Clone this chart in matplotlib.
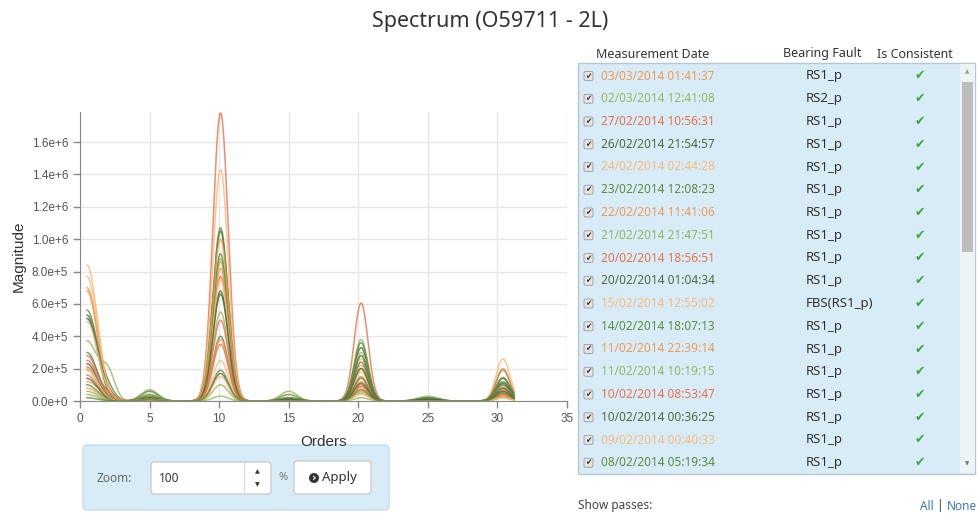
import matplotlib
matplotlib.use('Agg')
import numpy as np
import matplotlib.pyplot as plt
from matplotlib.patches import Rectangle, FancyBboxPatch, Circle

# ----------------------
# data
# ----------------------
dates = ["03/03/2014 01:41:37", "02/03/2014 12:41:08", "27/02/2014 10:56:31",
         "26/02/2014 21:54:57", "24/02/2014 02:44:28", "23/02/2014 12:08:23",
         "22/02/2014 11:41:06", "21/02/2014 21:47:51", "20/02/2014 18:56:51",
         "20/02/2014 01:04:34", "15/02/2014 12:55:02", "14/02/2014 18:07:13",
         "11/02/2014 22:39:14", "11/02/2014 10:19:15", "10/02/2014 08:53:47",
         "10/02/2014 00:36:25", "09/02/2014 00:40:33", "08/02/2014 05:19:34"]
faults = ["RS1_p", "RS2_p", "RS1_p", "RS1_p", "RS1_p", "RS1_p", "RS1_p", "RS1_p",
          "RS1_p", "RS1_p", "FBS(RS1_p)", "RS1_p", "RS1_p", "RS1_p", "RS1_p",
          "RS1_p", "RS1_p", "RS1_p"]

palette = ["#f09a50", "#9ab560", "#e8704a", "#4e6a3a", "#f7ba7a", "#5e8a3e"]
n_series = 24
series_colors = [palette[i % 6] for i in range(n_series)]

# peak magnitudes of each pass at the harmonics
harm_orders = [0.5, 2.0, 5.0, 10.1, 15.0, 20.2, 25.0, 30.4]
harm_width = [0.75, 0.5, 0.6, 0.55, 0.6, 0.5, 0.7, 0.5]
amp_dc = [0.70e6, 0.19e6, 0.28e6, 0.51e6, 0.84e6, 0.56e6, 0.68e6, 0.37e6, 0.21e6, 0.53e6,
          0.77e6, 0.30e6, 0.12e6, 0.06e6, 0.16e6, 0.23e6, 0.49e6, 0.10e6, 0.08e6, 0.04e6,
          0.25e6, 0.14e6, 0.20e6, 0.02e6]
amp_2 = [0.0, 0.0, 0.02e6, 0.0, 0.0, 0.06e6, 0.0, 0.17e6, 0.0, 0.03e6, 0.0, 0.0,
         0.04e6, 0.0, 0.0, 0.0, 0.02e6, 0.0, 0.0, 0.0, 0.03e6, 0.0, 0.0, 0.0]
amp_5 = [0.02e6, 0.07e6, 0.01e6, 0.04e6, 0.01e6, 0.06e6, 0.02e6, 0.04e6, 0.01e6, 0.02e6,
         0.01e6, 0.03e6, 0.01e6, 0.01e6, 0.01e6, 0.02e6, 0.01e6, 0.01e6, 0.01e6, 0.01e6,
         0.01e6, 0.01e6, 0.01e6, 0.01e6]
amp_10 = [0.86e6, 0.55e6, 1.78e6, 1.05e6, 1.43e6, 1.07e6, 0.82e6, 0.88e6, 0.77e6, 0.68e6,
          0.75e6, 0.91e6, 1.00e6, 0.10e6, 0.50e6, 0.66e6, 0.25e6, 0.40e6, 0.38e6, 0.03e6,
          0.35e6, 0.17e6, 0.15e6, 0.19e6]
amp_15 = [0.01e6, 0.06e6, 0.01e6, 0.02e6, 0.01e6, 0.04e6, 0.01e6, 0.02e6, 0.01e6, 0.01e6,
          0.01e6, 0.02e6, 0.01e6, 0.0, 0.01e6, 0.01e6, 0.0, 0.01e6, 0.0, 0.0,
          0.0, 0.01e6, 0.0, 0.0]
amp_20 = [0.20e6, 0.38e6, 0.605e6, 0.33e6, 0.26e6, 0.36e6, 0.22e6, 0.30e6, 0.15e6, 0.28e6,
          0.18e6, 0.24e6, 0.12e6, 0.05e6, 0.10e6, 0.20e6, 0.08e6, 0.14e6, 0.06e6, 0.02e6,
          0.09e6, 0.11e6, 0.04e6, 0.07e6]
amp_25 = [0.01e6, 0.03e6, 0.01e6, 0.02e6, 0.01e6, 0.02e6, 0.0, 0.01e6, 0.0, 0.01e6,
          0.0, 0.01e6, 0.0, 0.0, 0.0, 0.01e6, 0.0, 0.0, 0.0, 0.0,
          0.0, 0.01e6, 0.0, 0.0]
amp_30 = [0.08e6, 0.20e6, 0.19e6, 0.14e6, 0.26e6, 0.12e6, 0.10e6, 0.06e6, 0.05e6, 0.11e6,
          0.09e6, 0.145e6, 0.04e6, 0.03e6, 0.07e6, 0.08e6, 0.05e6, 0.10e6, 0.03e6, 0.02e6,
          0.04e6, 0.06e6, 0.02e6, 0.05e6]

y_ticks = [0, 2e5, 4e5, 6e5, 8e5, 1e6, 1.2e6, 1.4e6, 1.6e6]
y_labels = ["0.0e+0", "2.0e+5", "4.0e+5", "6.0e+5", "8.0e+5", "1.0e+6", "1.2e+6", "1.4e+6", "1.6e+6"]
x_ticks = [0, 5, 10, 15, 20, 25, 30, 35]

# ----------------------
# figure
# ----------------------
W, H = 980, 513
fig = plt.figure(figsize=(W / 100, H / 100), dpi=100)
fig.patch.set_facecolor("white")

UI_FONT = ["Noto Sans", "DejaVu Sans"]
CHART_FONT = ["Liberation Sans", "DejaVu Sans"]

fig.text(0.5, 1 - 22 / H, "Spectrum (O59711 - 2L)", ha="center", va="center",
         fontsize=15.5, color="#333333", family=UI_FONT)

# spectrum axes
ax = fig.add_axes([80 / W, 1 - 401 / H, (567 - 80) / W, (401 - 112) / H])
x = np.linspace(0.5, 31.2, 800)
amps = [amp_dc, amp_2, amp_5, amp_10, amp_15, amp_20, amp_25, amp_30]
for i in range(n_series):
    y = np.zeros_like(x)
    for a, c, w in zip(amps, harm_orders, harm_width):
        y += a[i] * np.exp(-(x - c) ** 2 / (2 * w ** 2))
    ax.plot(x, y, color=series_colors[i], lw=1.1, alpha=0.8)

ax.set_xlim(0, 35)
ax.set_ylim(0, 1.786e6)
ax.set_xticks(x_ticks)
ax.set_yticks(y_ticks)
ax.set_yticklabels(y_labels)
ax.grid(True, color="#e6e6e6", lw=1)
ax.set_axisbelow(True)
for s in ["top", "right"]:
    ax.spines[s].set_visible(False)
ax.spines["left"].set_color("#888888")
ax.spines["bottom"].set_color("#888888")
ax.tick_params(colors="#888888", labelcolor="#555555", length=5, width=1, labelsize=8.5)
for lab in ax.get_xticklabels() + ax.get_yticklabels():
    lab.set_family(CHART_FONT)
ax.set_xlabel("Orders", fontsize=11, color="#333333", family=CHART_FONT, labelpad=7)
ax.set_ylabel("Magnitude", fontsize=11, color="#333333", family=CHART_FONT, labelpad=4)

# ----------------------
# UI layer (pixel coords)
# ----------------------
ui = fig.add_axes([0, 0, 1, 1], zorder=-1)
ui.set_xlim(0, W)
ui.set_ylim(H, 0)
ui.axis("off")

# table header
hdr = dict(fontsize=9, color="#333333", family=UI_FONT, va="center")
ui.text(596, 54, "Measurement Date", ha="left", **hdr)
ui.text(783, 54, "Bearing Fault", ha="left", **hdr)
ui.text(877, 54, "Is Consistent", ha="left", **hdr)

# list box
ui.add_patch(Rectangle((578, 63), 397, 411, facecolor="#d8ecf8", edgecolor="#b9c6d0", lw=1))
ui.add_patch(Rectangle((960, 64), 15, 409, facecolor="#eef3f6", edgecolor="none"))
ui.add_patch(Rectangle((962, 82), 11, 170, facecolor="#bdbdbd", edgecolor="none"))
ui.text(967.5, 72, "▲", ha="center", va="center", fontsize=4, color="#999999")
ui.text(967.5, 464, "▼", ha="center", va="center", fontsize=4, color="#777777")

row0, row_h = 76, 22.75
for i, (d, f) in enumerate(zip(dates, faults)):
    yy = row0 + i * row_h
    ui.add_patch(FancyBboxPatch((584, yy - 4.5), 9, 9, boxstyle="round,pad=0,rounding_size=1.5",
                                facecolor="#e4e4e4", edgecolor="#9a9a9a", lw=0.6))
    ui.text(588.5, yy, "✔", ha="center", va="center", fontsize=5.5, color="#333333",
            family=["DejaVu Sans"])
    ui.text(601, yy, d, ha="left", va="center", fontsize=8.5, color=series_colors[i], family=UI_FONT)
    ui.text(806, yy, f, ha="left", va="center", fontsize=9.5, color="#333333", family=UI_FONT)
    ui.text(920, yy, "✔", ha="center", va="center", fontsize=9, color="#3fa83f",
            family=["DejaVu Sans"])

ui.text(578, 506, "Show passes:", ha="left", va="center", fontsize=8.5, color="#444444", family=UI_FONT)
ui.text(977, 506, "None", ha="right", va="center", fontsize=8.5, color="#3a78c2", family=UI_FONT)
ui.text(939, 506, "|", ha="center", va="center", fontsize=8.5, color="#333333", family=UI_FONT)
ui.text(934, 506, "All", ha="right", va="center", fontsize=8.5, color="#3a78c2", family=UI_FONT)

# zoom box
ui.add_patch(FancyBboxPatch((83, 445), 306, 65, boxstyle="round,pad=0,rounding_size=4",
                            facecolor="#d8ecf8", edgecolor="#c3dbec", lw=1))
ui.text(96, 478, "Zoom:", ha="left", va="center", fontsize=8.5, color="#666666", family=UI_FONT)
ui.add_patch(FancyBboxPatch((151, 462), 120, 32, boxstyle="round,pad=0,rounding_size=3",
                            facecolor="white", edgecolor="#cccccc", lw=1))
ui.plot([244, 244], [462, 494], color="#dddddd", lw=1)
ui.text(159, 478, "100", ha="left", va="center", fontsize=8.5, color="#333333", family=UI_FONT)
ui.text(257, 472, "▲", ha="center", va="center", fontsize=4.5, color="#333333")
ui.text(257, 485, "▼", ha="center", va="center", fontsize=4.5, color="#333333")
ui.text(283, 478, "%", ha="center", va="center", fontsize=8, color="#777777", family=UI_FONT)
ui.add_patch(FancyBboxPatch((294, 461), 77, 33, boxstyle="round,pad=0,rounding_size=3",
                            facecolor="white", edgecolor="#cccccc", lw=1))
ui.add_patch(Circle((314, 478), 5, facecolor="#333333", edgecolor="none"))
ui.text(314.5, 477.5, "›", ha="center", va="center", fontsize=8, color="white",
        fontweight="bold", family=["DejaVu Sans"])
ui.text(322, 478, "Apply", ha="left", va="center", fontsize=9.5, color="#333333", family=UI_FONT)

plt.savefig("out.png", dpi=100)
plt.close()
